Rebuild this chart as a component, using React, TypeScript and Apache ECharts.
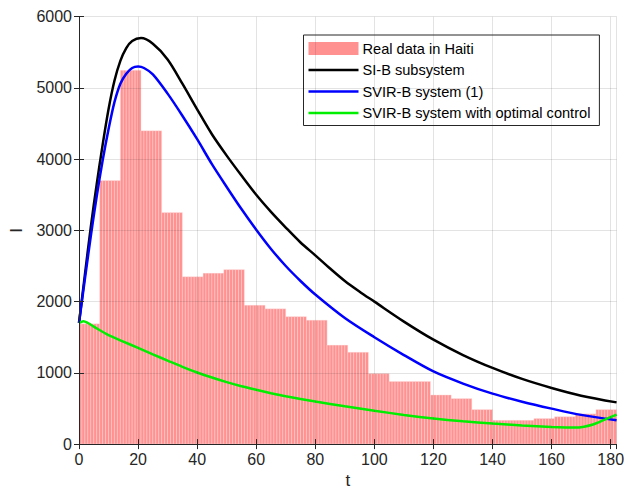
import React, { useEffect, useRef } from "react";
import * as echarts from "echarts";

const weeklyCases = [1690, 3700, 5250, 4400, 3250, 2350, 2400, 2450, 1950, 1900, 1790, 1740, 1390, 1290, 990, 880, 880, 690, 640, 485, 335, 335, 360, 385, 425, 485];

const tBlack = [0, 2, 4, 6, 8, 10, 12, 14, 16, 18, 21, 25, 30, 35, 40, 45, 50, 55, 60, 65, 70, 75, 80, 85, 90, 95, 100, 110, 120, 130, 140, 150, 160, 170, 182];
const black = [1700, 2380, 3050, 3650, 4200, 4700, 5100, 5380, 5560, 5660, 5700, 5620, 5400, 5060, 4700, 4350, 4050, 3770, 3500, 3260, 3040, 2830, 2650, 2465, 2290, 2140, 2000, 1720, 1466, 1250, 1069, 915, 788, 680, 586];

const tBlue = [0, 2, 4, 6, 8, 10, 12, 14, 16, 18, 20, 22, 25, 30, 35, 40, 45, 50, 55, 60, 65, 70, 75, 80, 90, 100, 110, 120, 130, 140, 150, 160, 170, 182];
const blue = [1700, 2320, 2920, 3480, 3980, 4420, 4800, 5060, 5200, 5280, 5300, 5280, 5190, 4920, 4610, 4280, 3930, 3610, 3300, 3010, 2740, 2500, 2290, 2100, 1770, 1500, 1250, 1020, 850, 708, 595, 498, 410, 334];

const tGreen = [0, 1.5, 3, 5, 10, 15, 20, 25, 30, 35, 40, 45, 50, 55, 60, 65, 70, 80, 90, 100, 110, 120, 130, 140, 150, 160, 165, 168, 171, 174, 178, 182];
const green = [1700, 1725, 1700, 1650, 1530, 1440, 1350, 1260, 1172, 1085, 1005, 935, 870, 812, 762, 715, 672, 598, 530, 468, 410, 360, 320, 288, 262, 241, 234, 232, 245, 275, 344, 414];

const seriesNames = ["Real data in Haiti", "SI-B subsystem", "SVIR-B system (1)", "SVIR-B system with optimal control"];

const FONT = "'Liberation Sans', Arial, Helvetica, sans-serif";
const AXIS_COLOR = "#262626";
const LINE_ICON = "path://M0,0 H50 V2.6 H0 Z";

export default function App() {
  const ref = useRef<HTMLDivElement>(null);
  useEffect(() => {
    if (!ref.current) return;
    const chart = echarts.init(ref.current, undefined, { renderer: "svg" });
    const daily: number[][] = [];
    for (let d = 0; d < weeklyCases.length * 7; d++) {
      daily.push([d, weeklyCases[Math.floor(d / 7)]]);
    }
    const pair = (ts: number[], vs: number[]) => ts.map((t, i) => [t, vs[i]]);
    const barFill = "rgba(255,0,0,0.43)";
    const option: any = {
      animation: false,
      textStyle: { fontFamily: FONT },
      grid: { left: 75.7, top: 16.7, right: 9.3, bottom: 49.5, containLabel: false },
      legend: {
        orient: "vertical",
        left: 303.5,
        top: 35,
        padding: [6, 9, 5, 5],
        itemWidth: 50,
        itemHeight: 13,
        itemGap: 6.5,
        backgroundColor: "#fff",
        borderColor: AXIS_COLOR,
        borderWidth: 1,
        textStyle: { fontSize: 14.6, lineHeight: 14, color: "#000", fontFamily: FONT, padding: [0, 0, 0, -1] },
        data: [
          { name: seriesNames[0], icon: "rect", itemStyle: { color: barFill } },
          { name: seriesNames[1], icon: LINE_ICON },
          { name: seriesNames[2], icon: LINE_ICON },
          { name: seriesNames[3], icon: LINE_ICON },
        ],
      },
      xAxis: [
        {
          type: "value",
          min: 0,
          max: 182,
          interval: 20,
          z: 10,
          name: "t",
          nameLocation: "middle",
          nameGap: 24,
          nameTextStyle: { fontSize: 17, color: AXIS_COLOR, fontFamily: FONT },
          axisLine: { show: true, lineStyle: { color: AXIS_COLOR, width: 1 } },
          axisTick: { show: true, inside: true, length: 5, lineStyle: { color: AXIS_COLOR } },
          axisLabel: { fontSize: 16, color: AXIS_COLOR, margin: 7, fontFamily: FONT, showMaxLabel: false },
          splitLine: { show: true, lineStyle: { color: "rgba(38,38,38,0.13)", width: 1 } },
        },
        {
          type: "value",
          position: "top",
          min: 0,
          max: 182,
          interval: 20,
          z: 10,
          axisLine: { show: true, lineStyle: { color: AXIS_COLOR, width: 1 } },
          axisTick: { show: true, inside: true, length: 5, lineStyle: { color: AXIS_COLOR } },
          axisLabel: { show: false },
          splitLine: { show: false },
        },
      ],
      yAxis: [
        {
          type: "value",
          min: 0,
          max: 6000,
          interval: 1000,
          z: 10,
          name: "I",
          nameLocation: "middle",
          nameGap: 54,
          nameRotate: 90,
          nameTextStyle: { fontSize: 17, color: AXIS_COLOR, fontFamily: FONT },
          axisLine: { show: true, lineStyle: { color: AXIS_COLOR, width: 1 } },
          axisTick: { show: true, inside: true, length: 5, lineStyle: { color: AXIS_COLOR } },
          axisLabel: { fontSize: 16, color: AXIS_COLOR, margin: 7, fontFamily: FONT, formatter: (v: number) => String(v) },
          splitLine: { show: true, lineStyle: { color: "rgba(38,38,38,0.13)", width: 1 } },
        },
        {
          type: "value",
          position: "right",
          min: 0,
          max: 6000,
          interval: 1000,
          z: 10,
          axisLine: { show: true, lineStyle: { color: AXIS_COLOR, width: 1 } },
          axisTick: { show: true, inside: true, length: 5, lineStyle: { color: AXIS_COLOR } },
          axisLabel: { show: false },
          splitLine: { show: false },
        },
      ],
      series: [
        {
          name: seriesNames[0],
          type: "custom",
          xAxisIndex: 0,
          yAxisIndex: 0,
          clip: true,
          encode: { x: 0, y: 1 },
          itemStyle: { color: barFill },
          data: daily,
          renderItem: (params: any, api: any) => {
            const t = api.value(0);
            const v = api.value(1);
            const p0 = api.coord([t, v]);
            const p1 = api.coord([t + 1, 0]);
            return {
              type: "rect",
              shape: { x: p0[0], y: p0[1], width: p1[0] - p0[0], height: p1[1] - p0[1] },
              style: { fill: barFill, stroke: "rgba(255,235,235,0.75)", lineWidth: 0.5 },
            };
          },
        },
        {
          name: seriesNames[1],
          type: "line",
          data: pair(tBlack, black),
          symbol: "none",
          smooth: 0.3,
          z: 3,
          itemStyle: { color: "#000000" },
          lineStyle: { color: "#000000", width: 2.5 },
        },
        {
          name: seriesNames[2],
          type: "line",
          data: pair(tBlue, blue),
          symbol: "none",
          smooth: 0.3,
          z: 4,
          itemStyle: { color: "#0000ff" },
          lineStyle: { color: "#0000ff", width: 2.5 },
        },
        {
          name: seriesNames[3],
          type: "line",
          data: pair(tGreen, green),
          symbol: "none",
          smooth: 0.3,
          z: 5,
          itemStyle: { color: "#00ee00" },
          lineStyle: { color: "#00ee00", width: 2.5 },
        },
      ],
    };
    chart.setOption(option);
    return () => chart.dispose();
  }, []);
  return (
    <div
      ref={ref}
      style={{ position: "fixed", left: 0, top: 0, width: 627, height: 494, background: "#fff" }}
    />
  );
}
